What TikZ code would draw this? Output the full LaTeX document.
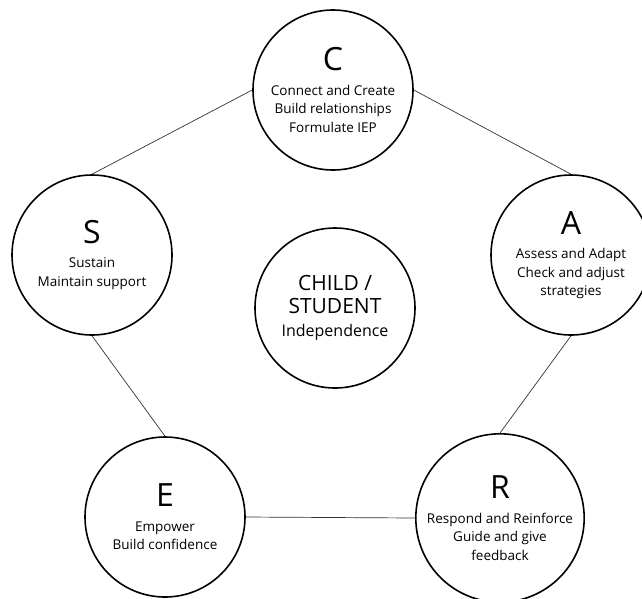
\documentclass[tikz,border=0pt]{standalone}
\usepackage{fontspec}
\setmainfont{Open Sans}
\begin{document}
\begin{tikzpicture}[x=1pt,y=-1pt,
  stage/.style={draw,line width=1.6pt,circle,minimum size=160pt,inner sep=0pt,
    align=center,font=\fontsize{13.5}{18.5}\selectfont},
  link/.style={draw,line width=0.7pt,black!80}]
\useasboundingbox (0,0) rectangle (642,598);
% the five stages
\node[stage] (C) at (333,90) {{\fontsize{32}{32}\selectfont C}\\[6pt]Connect and Create\\Build relationships\\Formulate IEP};
\node[stage] (A) at (571,255) {{\fontsize{32}{32}\selectfont A}\\[6pt]Assess and Adapt\\Check and adjust\\strategies};
\node[stage] (R) at (500,518) {{\fontsize{32}{32}\selectfont R}\\[6pt]Respond and Reinforce\\Guide and give\\feedback};
\node[stage] (E) at (165,517) {{\fontsize{32}{32}\selectfont E}\\[6pt]Empower\\Build confidence};
\node[stage] (S) at (92,255) {{\fontsize{32}{32}\selectfont S}\\[6pt]Sustain\\Maintain support};
% the child in the middle
\node[stage,font=\fontsize{21}{23}\selectfont] (K) at (335,308) {CHILD /\\STUDENT\\{\fontsize{16}{18}\selectfont Independence}};
% the cycle
\draw[link] (S.north) -- (C.west);
\draw[link] (C.east) -- (A.north);
\draw[link] (A.south) -- (R.north);
\draw[link] (R.west) -- (E.east);
\draw[link] (E.north) -- (S.south);
\end{tikzpicture}
\end{document}
